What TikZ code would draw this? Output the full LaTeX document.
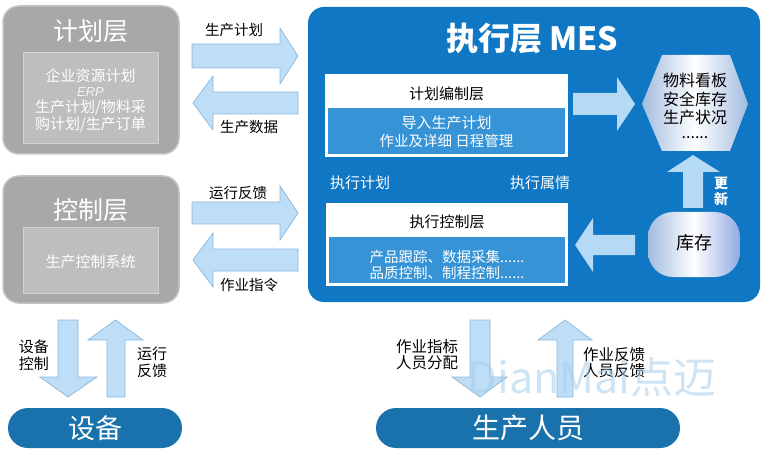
\documentclass[tikz,border=0pt]{standalone}
\usepackage{fontspec}
\setmainfont{Noto Sans CJK SC}
\newfontfamily\erpfont{Liberation Sans}
\definecolor{mesblue}{HTML}{0F77C3}
\definecolor{subblue}{HTML}{3593D6}
\definecolor{pillblue}{HTML}{1A72AD}
\definecolor{arrfill}{HTML}{BDDEF6}
\definecolor{arredge}{HTML}{8DB7D9}
\definecolor{arrin}{HTML}{B5DAF5}
\definecolor{grayout}{HTML}{A8A8A8}
\definecolor{grayoutedge}{HTML}{C4C4C4}
\definecolor{grayin}{HTML}{BEBEBE}
\definecolor{grayinedge}{HTML}{D2D2D2}
\definecolor{hexedge}{HTML}{A3BCE0}
\definecolor{wmark}{HTML}{A5CEEB}
\newcommand{\fs}[1]{\fontsize{#1}{#1}\selectfont}
\begin{document}
\begin{tikzpicture}[x=1pt,y=-1pt,
  outerbox/.style={fill=grayout, draw=grayoutedge, line width=1.5pt, rounded corners=16pt},
  innerbox/.style={fill=grayin, draw=grayinedge, line width=1pt},
  arr/.style={fill=arrfill, draw=arredge, line width=0.7pt, line join=miter},
  inarr/.style={fill=arrin},
  txt/.style={inner sep=0pt, align=center},
  wt/.style={txt, text=white},
  bk/.style={txt, text=black},
  pill/.style={fill=pillblue, rounded corners=20pt}
]
\useasboundingbox (0,0) rectangle (763,457);

% ---------- left gray boxes ----------
\draw[outerbox] (3,6) rectangle (179,154);
\draw[innerbox] (23,53) rectangle (158,144);
\node[wt] (plantitle) at (91,31) {\fs{25}计划层};
\node[wt] (erp1) at (90.5,76) {\fs{15}企业资源计划};
\node[wt, text=white!92!gray] (erp2) at (90.5,92) {\fs{13}\erpfont\itshape ERP};
\node[wt] (erp3) at (90.5,108) {\fs{15}生产计划/物料采};
\node[wt] (erp4) at (90.5,125) {\fs{15}购计划/生产订单};

\draw[outerbox] (3,176) rectangle (179,303);
\draw[innerbox] (23,228) rectangle (158,293);
\node[wt] (ctltitle) at (91,210) {\fs{25}控制层};
\node[wt] (ctlsys) at (90.5,262) {\fs{15}生产控制系统};

% ---------- arrows between left and MES ----------
\draw[arr] (192,44) -- (280,44) -- (280,28) -- (298,56) -- (280,84) -- (280,68) -- (192,68) -- cycle;
\node[bk] (l1) at (234,30) {\fs{14.5}生产计划};
\draw[arr] (298,92) -- (213,92) -- (213,76) -- (193,103) -- (213,130) -- (213,114) -- (298,114) -- cycle;
\node[bk] (l2) at (249,127) {\fs{14.5}生产数据};
\draw[arr] (192,202) -- (280,202) -- (280,186) -- (298,213) -- (280,240) -- (280,224) -- (192,224) -- cycle;
\node[bk] (l3) at (238,193) {\fs{14.5}运行反馈};
\draw[arr] (298,249) -- (213,249) -- (213,233) -- (193,260) -- (213,287) -- (213,271) -- (298,271) -- cycle;
\node[bk] (l4) at (249,285) {\fs{14.5}作业指令};

% ---------- MES box ----------
\fill[mesblue, rounded corners=16pt] (308,7) rectangle (760,302);
\node[wt] (mestitle) at (532,39) {\fs{32}\bfseries 执行层 MES};

% plan compile
\fill[white] (325,74) rectangle (568,157);
\fill[subblue] (328,108) rectangle (565,154);
\node[bk] (pc) at (446.5,94) {\fs{15}计划编制层};
\node[wt] (pc1) at (446.5,123) {\fs{15}导入生产计划};
\node[wt] (pc2) at (446.5,141) {\fs{14.5}作业及详细 日程管理};

% exec control
\fill[white] (326,203) rectangle (568,286);
\fill[subblue] (329,237) rectangle (565,283);
\node[bk] (ec) at (447,222) {\fs{15}执行控制层};
\node[wt] (ec1) at (447,257) {\fs{14.5}产品跟踪、数据采集......};
\node[wt] (ec2) at (447,273) {\fs{14.5}品质控制、制程控制......};

\node[wt] (ep) at (360,183) {\fs{15}执行计划};
\node[wt] (es) at (540,183) {\fs{15}执行属情};

% hexagon
\shade[left color=hexedge, right color=hexedge, middle color=white]
  (642,104) -- (662,55) -- (730,55) -- (748,104) -- (730,151) -- (662,151) -- cycle;
\node[bk] (hex) at (695,106) {\fs{16}物料看板\\[3pt]\fs{16}安全库存\\[3pt]\fs{16}生产状况\\[3pt]\fs{16}......};

% in-MES arrows
\fill[inarr] (573,93) -- (617,93) -- (617,77) -- (635,104) -- (617,131) -- (617,115) -- (573,115) -- cycle;
\fill[inarr] (683,208) -- (683,172) -- (667,172) -- (693,155) -- (720,172) -- (703,172) -- (703,208) -- cycle;
\node[wt] (gx1) at (721,183) {\fs{14}\bfseries 更};
\node[wt] (gx2) at (721,199) {\fs{14}\bfseries 新};
\fill[inarr] (635,235) -- (593,235) -- (593,218) -- (575,245) -- (593,272) -- (593,255) -- (635,255) -- cycle;

% stock
\shade[left color=hexedge, right color=hexedge!90!blue, middle color=white, rounded corners=25pt]
  (648,212) rectangle (740,277);
\node[bk] (stock) at (694,243) {\fs{18}库存};

% ---------- bottom ----------
\draw[arr] (58,320) -- (78,320) -- (78,377) -- (97,377) -- (68,397) -- (40,377) -- (58,377) -- cycle;
\draw[arr] (107,397) -- (107,340) -- (88,340) -- (115.5,320) -- (143,340) -- (125,340) -- (125,397) -- cycle;
\node[bk] (d1) at (34,355) {\fs{15}设备\\[2pt]\fs{15}控制};
\node[bk] (d2) at (152,362) {\fs{15}运行\\[2pt]\fs{15}反馈};
\fill[pill] (8,408) rectangle (182,448);
\node[wt] (dev) at (95,428) {\fs{27}设备};

\draw[arr] (470,320) -- (490,320) -- (490,377) -- (507,377) -- (480,397) -- (452,377) -- (470,377) -- cycle;
\draw[arr] (557,397) -- (557,340) -- (538,340) -- (565,320) -- (592,340) -- (573,340) -- (573,397) -- cycle;
\node[bk] (w1) at (427,355) {\fs{15.5}作业指标\\[1pt]\fs{15.5}人员分配};
\node[bk] (w2) at (614,363) {\fs{15.5}作业反馈\\[1pt]\fs{15.5}人员反馈};
\fill[pill] (376,408) rectangle (680,448);
\node[wt] (staff) at (528,428) {\fs{28}生产人员};

\node[txt, text=wmark, opacity=0.55] (wm) at (592,377) {\fs{43}DianMai点迈};
\end{tikzpicture}
\end{document}
